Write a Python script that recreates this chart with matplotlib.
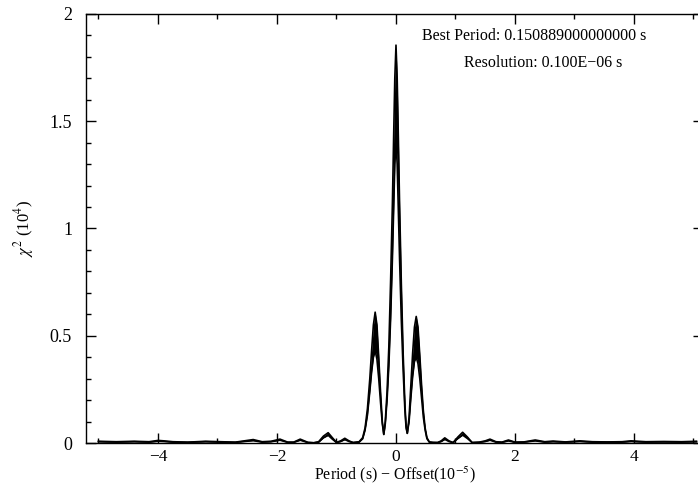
"""Chi-square periodogram around the best period."""

import matplotlib
matplotlib.use("Agg")
import matplotlib.pyplot as plt
from matplotlib.ticker import MultipleLocator

# period offset (units of 1e-5 s) and chi^2 (units of 1e4): upper / lower envelope
offset = [-5.00, -4.70, -4.40, -4.15, -4.00, -3.90, -3.75, -3.50, -3.20, -2.95,
          -2.70, -2.55, -2.40, -2.25, -2.10, -1.95, -1.82, -1.72, -1.61, -1.48,
          -1.38, -1.30, -1.22, -1.14, -1.07, -1.00, -0.93, -0.86, -0.79, -0.72,
          -0.62, -0.56, -0.52, -0.48, -0.44, -0.41, -0.38, -0.35, -0.32, -0.29,
          -0.26, -0.23, -0.205, -0.18, -0.15, -0.12, -0.09, -0.06, -0.04, -0.02,
          0.00, 0.02, 0.04, 0.06, 0.09, 0.12, 0.15, 0.17, 0.19, 0.22,
          0.25, 0.28, 0.31, 0.34, 0.37, 0.40, 0.43, 0.46, 0.49, 0.52,
          0.56, 0.62, 0.70, 0.76, 0.82, 0.89, 0.96, 1.04, 1.12, 1.20,
          1.28, 1.40, 1.50, 1.58, 1.68, 1.78, 1.89, 2.00, 2.15, 2.34,
          2.50, 2.64, 2.85, 3.09, 3.30, 3.55, 3.80, 3.95, 4.20, 4.50,
          4.80, 5.05]
chi2_hi = [0.008, 0.006, 0.008, 0.006, 0.012, 0.010, 0.006, 0.004, 0.008, 0.006,
           0.004, 0.010, 0.016, 0.006, 0.008, 0.018, 0.004, 0.004, 0.018, 0.003,
           0.001, 0.006, 0.032, 0.048, 0.025, 0.003, 0.010, 0.022, 0.010, 0.002,
           0.006, 0.025, 0.07, 0.16, 0.30, 0.43, 0.55, 0.61, 0.55, 0.40,
           0.24, 0.10, 0.04, 0.10, 0.24, 0.45, 0.76, 1.12, 1.42, 1.70,
           1.855, 1.70, 1.42, 1.12, 0.74, 0.42, 0.18, 0.08, 0.045, 0.12,
           0.27, 0.42, 0.54, 0.59, 0.54, 0.41, 0.27, 0.15, 0.07, 0.025,
           0.005, 0.003, 0.002, 0.010, 0.024, 0.010, 0.002, 0.028, 0.050, 0.028,
           0.002, 0.004, 0.010, 0.018, 0.006, 0.004, 0.014, 0.004, 0.005, 0.014,
           0.006, 0.009, 0.005, 0.010, 0.006, 0.005, 0.006, 0.010, 0.006, 0.007,
           0.006, 0.008]
chi2_lo = [0.006, 0.004, 0.006, 0.004, 0.008, 0.007, 0.004, 0.003, 0.006, 0.004,
           0.003, 0.007, 0.011, 0.004, 0.006, 0.013, 0.003, 0.003, 0.013, 0.002,
           0.001, 0.004, 0.024, 0.036, 0.018, 0.002, 0.007, 0.016, 0.007, 0.002,
           0.004, 0.020, 0.06, 0.13, 0.24, 0.33, 0.40, 0.43, 0.39, 0.30,
           0.19, 0.09, 0.04, 0.09, 0.20, 0.36, 0.58, 0.86, 1.08, 1.30,
           1.40, 1.30, 1.08, 0.86, 0.57, 0.34, 0.15, 0.07, 0.045, 0.10,
           0.21, 0.31, 0.38, 0.40, 0.37, 0.30, 0.21, 0.12, 0.06, 0.020,
           0.004, 0.002, 0.002, 0.007, 0.017, 0.007, 0.002, 0.021, 0.037, 0.021,
           0.002, 0.003, 0.007, 0.013, 0.004, 0.003, 0.010, 0.003, 0.004, 0.010,
           0.004, 0.006, 0.004, 0.007, 0.004, 0.004, 0.004, 0.007, 0.004, 0.005,
           0.004, 0.006]

best_period_label = "Best Period: 0.150889000000000 s"
resolution_label = "Resolution: 0.100E\u221206 s"

plt.rcParams["font.family"] = "Liberation Serif"
plt.rcParams["mathtext.fontset"] = "stix"

fig = plt.figure(figsize=(6.98, 4.86), dpi=100)
# right spine sits just past the picture edge, as in the original
ax = fig.add_axes([86 / 698, 43 / 486, 617 / 698, 429 / 486])

ax.fill_between(offset, chi2_lo, chi2_hi, color="black", lw=0)
ax.plot(offset, chi2_hi, color="black", lw=1.2)
ax.plot(offset, chi2_lo, color="black", lw=1.2)

ax.set_xlim(-5.21, 5.16)
ax.set_ylim(0, 2)
ax.xaxis.set_major_locator(MultipleLocator(2))
ax.xaxis.set_minor_locator(MultipleLocator(1))
ax.yaxis.set_major_locator(MultipleLocator(0.5))
ax.yaxis.set_minor_locator(MultipleLocator(0.1))
ax.yaxis.set_major_formatter(plt.FuncFormatter(lambda v, p: f"{v:g}"))
ax.tick_params(which="both", direction="in", top=True, right=True,
               labelsize=13, width=1.0)
ax.tick_params(which="major", length=7)
ax.tick_params(which="minor", length=3.5)
ax.tick_params(axis="y", pad=10)
ax.tick_params(axis="x", pad=4, labelsize=12.5)
for sp in ax.spines.values():
    sp.set_linewidth(1.0)

ax.set_xlabel("Period (s) \u2212 Offset(10$^{\u22125}$)", fontsize=11.5, labelpad=0)
ax.set_ylabel("$\\chi^2$ (10$^4$)", fontsize=12, labelpad=10)

fig.text(422 / 698, 1 - 36 / 486, best_period_label, fontsize=11.5,
         ha="left", va="center")
fig.text(543 / 698, 1 - 63 / 486, resolution_label, fontsize=11.5,
         ha="center", va="center")

fig.savefig("out.png", dpi=100)
